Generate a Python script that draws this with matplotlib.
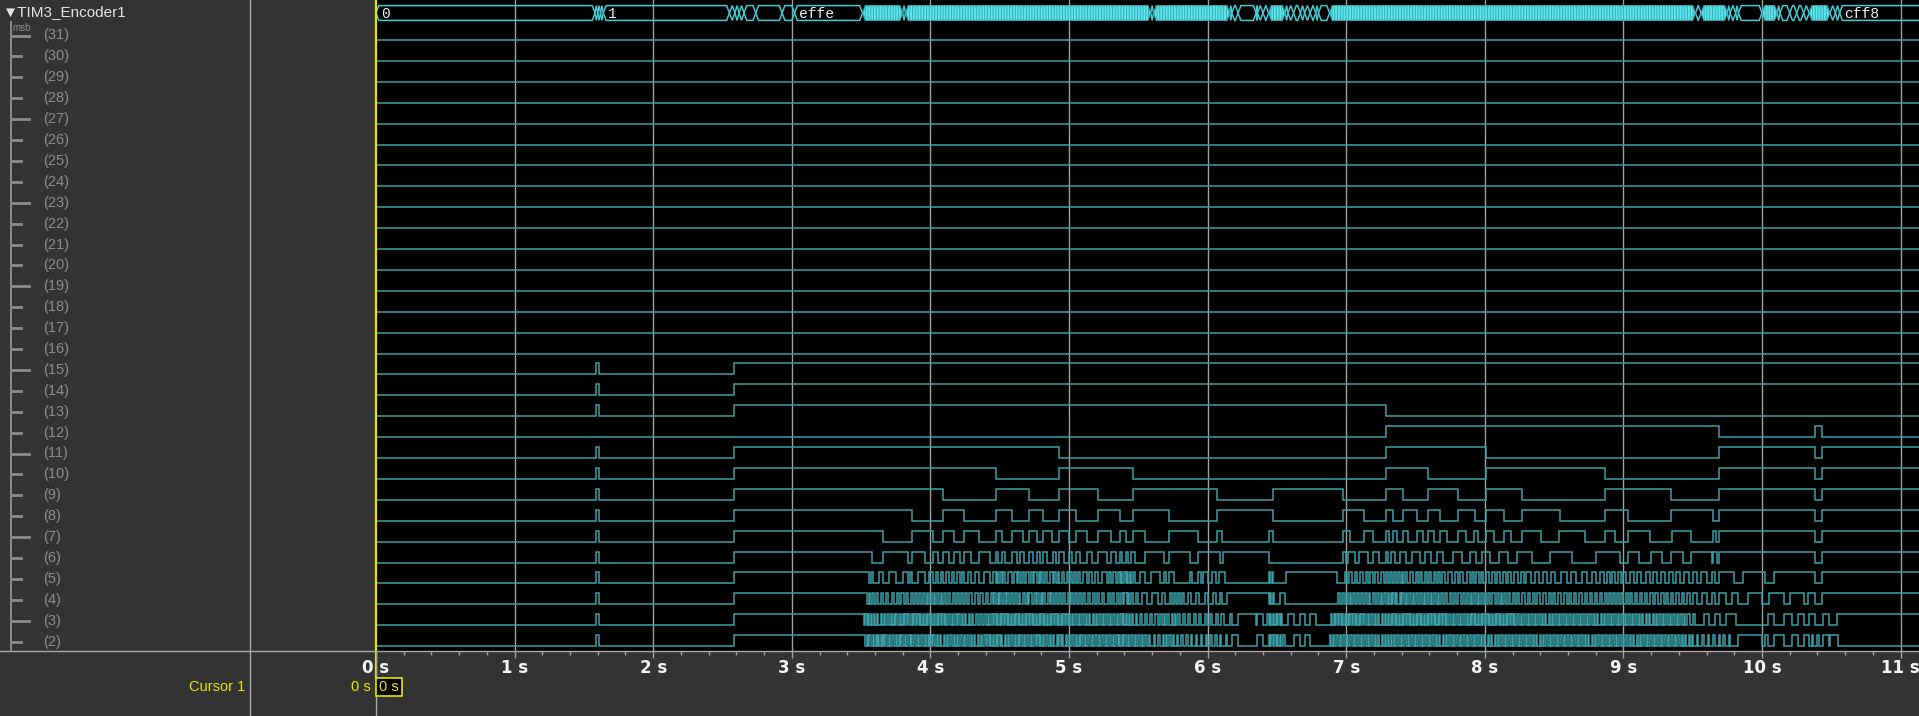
"""
TIM3_Encoder1 logic-analyzer view: 32-bit bus + per-bit waveforms (bits 31..2).
"""
import numpy as np
import matplotlib
matplotlib.use("Agg")
import matplotlib.pyplot as plt
from matplotlib.patches import Polygon, Rectangle

# ═══════════════════════════════════════════════════════════════════════
# data (seconds)
# ═══════════════════════════════════════════════════════════════════════
T_END = 11.2
TIME_TICKS = list(range(12))
TICK_LABELS = [f"{t} s" for t in TIME_TICKS]
BITS = list(range(31, 1, -1))

# bus value changes (sparse part) and spans where the bus toggles too fast to read
BUS_CHANGES = [1.58, 1.60, 1.62, 1.64, 2.55, 2.59, 2.62, 2.655, 2.74, 2.93, 3.02,
               3.51, 3.80, 3.82, 5.59, 5.61, 6.16, 6.175, 6.22, 6.35, 6.36, 6.40,
               6.44, 6.56, 6.58, 6.62, 6.67, 6.70, 6.74, 6.78, 6.80, 6.88, 9.52,
               9.56, 9.75, 9.77, 9.81, 9.83, 10.00, 10.11, 10.13, 10.20, 10.25,
               10.30, 10.34, 10.49, 10.53, 10.56]
BUS_DENSE = [(3.51, 3.80), (3.82, 5.59), (5.61, 6.16), (6.44, 6.56),
             (6.88, 9.52), (9.56, 9.75), (10.00, 10.11), (10.34, 10.49)]
BUS_LABELS = [(0.0, "0"), (1.64, "1"), (3.02, "effe"), (10.56, "cff8")]

# high intervals (rise, fall) per bit
BIT15 = [(1.59, 1.61), (2.586, T_END)]
BIT14 = [(1.59, 1.61), (2.586, T_END)]
BIT13 = [(1.59, 1.61), (2.586, 7.285)]
BIT12 = [(7.285, 9.69), (10.385, 10.435)]
BIT11 = [(1.59, 1.61), (2.586, 4.93), (7.285, 8.006), (9.69, 10.385), (10.435, T_END)]
BIT10 = [(1.59, 1.61), (2.586, 4.47), (4.93, 5.46), (7.285, 7.59), (8.006, 8.87),
         (9.69, 10.385), (10.435, T_END)]
BIT9 = [(1.59, 1.61), (2.586, 4.09), (4.47, 4.71), (4.93, 5.21), (5.46, 6.07),
        (6.474, 6.98), (7.285, 7.41), (7.59, 7.81), (8.006, 8.27), (8.87, 9.346),
        (9.69, 10.385), (10.435, T_END)]
BIT8 = [(1.59, 1.61), (2.586, 3.87), (4.09, 4.245), (4.47, 4.586), (4.71, 4.81),
        (4.93, 5.05), (5.21, 5.37), (5.46, 5.72), (6.07, 6.474), (6.98, 7.13),
        (7.285, 7.34), (7.41, 7.51), (7.59, 7.68), (7.81, 7.93), (8.006, 8.14),
        (8.27, 8.54), (8.87, 9.035), (9.346, 9.65), (9.69, 10.385), (10.435, T_END)]
BIT7 = [(1.59, 1.61), (2.586, 3.66), (3.87, 4.02), (4.09, 4.17), (4.245, 4.35),
        (4.47, 4.52), (4.586, 4.67), (4.71, 4.77), (4.81, 4.88), (4.93, 5.00),
        (5.05, 5.13), (5.21, 5.30), (5.37, 5.41), (5.46, 5.55), (5.72, 5.93),
        (6.07, 6.105), (6.445, 6.474), (6.979, 7.027), (7.131, 7.196), (7.285, 7.311),
        (7.34, 7.369), (7.412, 7.444), (7.509, 7.552), (7.592, 7.633), (7.677, 7.73),
        (7.809, 7.864), (7.922, 7.953), (8.006, 8.066), (8.141, 8.187), (8.271, 8.403),
        (8.538, 8.723), (8.867, 8.939), (9.035, 9.192), (9.348, 9.49), (9.65, 9.67),
        (9.69, 10.385), (10.435, T_END)]
BIT6 = [(1.59, 1.61), (2.586, 3.576), (3.66, 3.836), (3.87, 3.96), (4.02, 4.057),
        (4.09, 4.137), (4.173, 4.214), (4.245, 4.29), (4.354, 4.43), (4.47, 4.49),
        (4.514, 4.538), (4.586, 4.622), (4.646, 4.675), (4.71, 4.738), (4.767, 4.79),
        (4.81, 4.839), (4.882, 4.906), (4.93, 4.964), (5.002, 5.019), (5.05, 5.079),
        (5.127, 5.163), (5.211, 5.271), (5.30, 5.339), (5.368, 5.385), (5.411, 5.428),
        (5.445, 5.476), (5.548, 5.685), (5.724, 5.873), (5.933, 6.09), (6.11, 6.44),
        (6.979, 7.00), (7.015, 7.06), (7.09, 7.16), (7.196, 7.24), (7.285, 7.30),
        (7.325, 7.355), (7.39, 7.428), (7.475, 7.53), (7.57, 7.612), (7.655, 7.70),
        (7.77, 7.835), (7.89, 7.937), (7.98, 8.035), (8.10, 8.165), (8.23, 8.34),
        (8.47, 8.63), (8.80, 8.976), (9.036, 9.115), (9.197, 9.28), (9.346, 9.433),
        (9.488, 9.642), (9.65, 9.674), (9.69, 10.385), (10.435, T_END)]
BIT5 = [(1.59, 1.61), (2.586, 3.56), (3.575, 3.585), (3.63, 3.66), (3.70, 3.75),
        (3.80, 3.836), (3.85, 3.87), (3.91, 3.96), (3.99, 4.02), (4.04, 4.057),
        (4.075, 4.09), (4.11, 4.137), (4.155, 4.173), (4.195, 4.214), (4.23, 4.245),
        (4.27, 4.29), (4.32, 4.354), (4.39, 4.43), (4.45, 4.47), (4.48, 4.49),
        (4.50, 4.514), (4.525, 4.538), (4.56, 4.586), (4.605, 4.622), (4.635, 4.646),
        (4.66, 4.675), (4.69, 4.71), (4.725, 4.738), (4.75, 4.767), (4.78, 4.79),
        (4.80, 4.81), (4.825, 4.839), (4.86, 4.882), (4.895, 4.906), (4.918, 4.93),
        (4.95, 4.964), (4.985, 5.002), (5.01, 5.019), (5.035, 5.05), (5.065, 5.079),
        (5.10, 5.127), (5.145, 5.163), (5.19, 5.211), (5.24, 5.271), (5.285, 5.30),
        (5.32, 5.339), (5.355, 5.368), (5.376, 5.385), (5.40, 5.411), (5.42, 5.428),
        (5.437, 5.445), (5.46, 5.476), (5.51, 5.548), (5.59, 5.66), (5.685, 5.70),
        (5.72, 5.76), (5.87, 5.89), (5.93, 5.95), (5.97, 6.00), (6.03, 6.06),
        (6.08, 6.127), (6.44, 6.45), (6.465, 6.475), (6.563, 6.937), (6.99, 7.005),
        (7.02, 7.04), (7.06, 7.075), (7.10, 7.12), (7.14, 7.16), (7.175, 7.19),
        (7.21, 7.23), (7.25, 7.27), (7.29, 7.30), (7.315, 7.33), (7.345, 7.36),
        (7.375, 7.39), (7.40, 7.41), (7.425, 7.44), (7.46, 7.48), (7.50, 7.515),
        (7.535, 7.55), (7.565, 7.58), (7.60, 7.615), (7.63, 7.645), (7.66, 7.675),
        (7.69, 7.71), (7.735, 7.76), (7.785, 7.805), (7.82, 7.84), (7.87, 7.89),
        (7.91, 7.925), (7.94, 7.955), (7.97, 7.99), (8.01, 8.03), (8.05, 8.07),
        (8.09, 8.11), (8.13, 8.15), (8.17, 8.19), (8.21, 8.24), (8.26, 8.28),
        (8.30, 8.33), (8.36, 8.39), (8.42, 8.45), (8.48, 8.51), (8.55, 8.59),
        (8.62, 8.66), (8.70, 8.74), (8.77, 8.80), (8.83, 8.86), (8.88, 8.90),
        (8.92, 8.94), (8.96, 8.98), (9.00, 9.02), (9.05, 9.08), (9.10, 9.13),
        (9.16, 9.19), (9.21, 9.24), (9.27, 9.30), (9.33, 9.36), (9.38, 9.41),
        (9.44, 9.47), (9.50, 9.53), (9.56, 9.60), (9.64, 9.66), (9.69, 9.80),
        (9.86, 10.02), (10.09, 10.385), (10.435, T_END)]
BIT4 = [(1.59, 1.61), (2.586, 3.54), (3.555, 3.565), (3.58, 3.59), (3.61, 3.625),
        (3.645, 3.66), (3.68, 3.695), (3.72, 3.74), (3.76, 3.775), (3.79, 3.81),
        (3.825, 3.84), (3.86, 3.875), (3.89, 3.90), (3.915, 3.93), (3.945, 3.96),
        (3.975, 3.985), (4.00, 4.01), (4.025, 4.035), (4.05, 4.06), (4.075, 4.085),
        (4.10, 4.115), (4.13, 4.145), (4.16, 4.175), (4.19, 4.205), (4.22, 4.235),
        (4.25, 4.265), (4.28, 4.30), (4.32, 4.34), (4.36, 4.38), (4.40, 4.415),
        (4.435, 4.45), (4.46, 4.475), (4.485, 4.495), (4.505, 4.52), (4.53, 4.545),
        (4.555, 4.57), (4.58, 4.595), (4.61, 4.625), (4.64, 4.65), (4.665, 4.68),
        (4.695, 4.705), (4.715, 4.73), (4.745, 4.76), (4.77, 4.785), (4.795, 4.805),
        (4.815, 4.83), (4.845, 4.86), (4.87, 4.885), (4.90, 4.91), (4.925, 4.94),
        (4.955, 4.97), (4.99, 5.005), (5.015, 5.03), (5.04, 5.055), (5.07, 5.085),
        (5.10, 5.115), (5.135, 5.15), (5.17, 5.185), (5.20, 5.22), (5.235, 5.255),
        (5.28, 5.295), (5.31, 5.325), (5.345, 5.36), (5.375, 5.39), (5.40, 5.415),
        (5.425, 5.435), (5.45, 5.465), (5.48, 5.50), (5.53, 5.56), (5.60, 5.64),
        (5.67, 5.69), (5.73, 5.745), (5.76, 5.775), (5.79, 5.80), (5.815, 5.83),
        (5.86, 5.88), (5.915, 5.94), (5.98, 6.00), (6.04, 6.06), (6.09, 6.105),
        (6.14, 6.44), (6.45, 6.46), (6.47, 6.48), (6.52, 6.56), (6.94, 6.955),
        (6.97, 6.985), (7.00, 7.01), (7.025, 7.035), (7.05, 7.065), (7.08, 7.09),
        (7.105, 7.12), (7.135, 7.15), (7.165, 7.175), (7.19, 7.205), (7.22, 7.235),
        (7.25, 7.26), (7.275, 7.29), (7.30, 7.31), (7.32, 7.33), (7.34, 7.35),
        (7.36, 7.37), (7.385, 7.395), (7.405, 7.415), (7.43, 7.44), (7.45, 7.465),
        (7.48, 7.49), (7.505, 7.52), (7.535, 7.545), (7.56, 7.57), (7.585, 7.595),
        (7.61, 7.62), (7.635, 7.645), (7.66, 7.67), (7.685, 7.70), (7.715, 7.73),
        (7.75, 7.765), (7.78, 7.795), (7.81, 7.825), (7.845, 7.86), (7.875, 7.885),
        (7.90, 7.91), (7.925, 7.935), (7.95, 7.96), (7.975, 7.985), (8.00, 8.01),
        (8.025, 8.04), (8.055, 8.07), (8.085, 8.10), (8.115, 8.125), (8.14, 8.155),
        (8.17, 8.185), (8.20, 8.215), (8.235, 8.25), (8.27, 8.29), (8.31, 8.325),
        (8.345, 8.36), (8.38, 8.40), (8.42, 8.44), (8.46, 8.475), (8.495, 8.51),
        (8.53, 8.55), (8.57, 8.59), (8.61, 8.625), (8.645, 8.66), (8.68, 8.70),
        (8.72, 8.74), (8.76, 8.775), (8.795, 8.81), (8.83, 8.845), (8.865, 8.88),
        (8.895, 8.91), (8.925, 8.94), (8.955, 8.97), (8.985, 9.00), (9.02, 9.035),
        (9.05, 9.065), (9.085, 9.10), (9.12, 9.135), (9.155, 9.17), (9.19, 9.21),
        (9.23, 9.25), (9.27, 9.29), (9.31, 9.325), (9.345, 9.36), (9.38, 9.40),
        (9.42, 9.44), (9.46, 9.48), (9.50, 9.53), (9.57, 9.60), (9.64, 9.66),
        (9.69, 9.74), (9.78, 9.83), (9.90, 10.00), (10.05, 10.16), (10.20, 10.30),
        (10.33, 10.385), (10.435, T_END)]
BIT3 = [(1.59, 1.61), (2.586, 3.52), (3.53, 3.54), (3.55, 3.56), (3.57, 3.58),
        (3.59, 3.60), (3.615, 3.625), (3.64, 3.65), (3.665, 3.675), (3.69, 3.70),
        (3.715, 3.725), (3.735, 3.745), (3.755, 3.765), (3.78, 3.79), (3.80, 3.81),
        (3.82, 3.83), (3.84, 3.85), (3.865, 3.875), (3.885, 3.895), (3.905, 3.915),
        (3.925, 3.935), (3.945, 3.955), (3.965, 3.975), (3.985, 3.995), (4.005, 4.015),
        (4.025, 4.035), (4.045, 4.055), (4.065, 4.075), (4.085, 4.095), (4.105, 4.115),
        (4.13, 4.14), (4.155, 4.165), (4.18, 4.19), (4.20, 4.21), (4.225, 4.235),
        (4.25, 4.26), (4.275, 4.285), (4.30, 4.31), (4.33, 4.34), (4.36, 4.37),
        (4.39, 4.40), (4.415, 4.425), (4.44, 4.45), (4.46, 4.47), (4.48, 4.49),
        (4.50, 4.51), (4.52, 4.53), (4.54, 4.55), (4.56, 4.57), (4.58, 4.59),
        (4.60, 4.61), (4.62, 4.63), (4.64, 4.65), (4.66, 4.67), (4.68, 4.69),
        (4.70, 4.71), (4.72, 4.73), (4.74, 4.75), (4.76, 4.77), (4.78, 4.79),
        (4.80, 4.81), (4.82, 4.83), (4.84, 4.85), (4.86, 4.87), (4.88, 4.89),
        (4.90, 4.91), (4.92, 4.93), (4.94, 4.95), (4.96, 4.97), (4.98, 4.99),
        (5.00, 5.01), (5.02, 5.03), (5.045, 5.055), (5.07, 5.08), (5.095, 5.105),
        (5.12, 5.13), (5.145, 5.155), (5.17, 5.18), (5.195, 5.205), (5.22, 5.23),
        (5.245, 5.255), (5.27, 5.28), (5.295, 5.305), (5.32, 5.33), (5.345, 5.355),
        (5.37, 5.38), (5.39, 5.40), (5.41, 5.42), (5.43, 5.44), (5.455, 5.465),
        (5.48, 5.49), (5.51, 5.525), (5.545, 5.56), (5.585, 5.60), (5.62, 5.64),
        (5.66, 5.67), (5.685, 5.695), (5.71, 5.72), (5.74, 5.75), (5.765, 5.775),
        (5.79, 5.80), (5.82, 5.835), (5.86, 5.875), (5.90, 5.915), (5.94, 5.955),
        (5.98, 5.995), (6.02, 6.035), (6.06, 6.075), (6.10, 6.12), (6.16, 6.175),
        (6.22, 6.35), (6.36, 6.40), (6.43, 6.44), (6.45, 6.46), (6.47, 6.48),
        (6.49, 6.50), (6.51, 6.52), (6.53, 6.54), (6.58, 6.62), (6.67, 6.70),
        (6.74, 6.78), (6.89, 6.90), (6.91, 6.92), (6.93, 6.94), (6.95, 6.96),
        (6.97, 6.98), (6.99, 7.00), (7.01, 7.02), (7.03, 7.04), (7.05, 7.06),
        (7.07, 7.08), (7.09, 7.10), (7.11, 7.12), (7.13, 7.14), (7.155, 7.165),
        (7.18, 7.19), (7.205, 7.215), (7.23, 7.24), (7.255, 7.265), (7.28, 7.29),
        (7.30, 7.31), (7.32, 7.33), (7.34, 7.35), (7.36, 7.37), (7.38, 7.39),
        (7.40, 7.41), (7.42, 7.43), (7.44, 7.45), (7.46, 7.47), (7.48, 7.49),
        (7.50, 7.51), (7.52, 7.53), (7.54, 7.55), (7.56, 7.57), (7.58, 7.59),
        (7.60, 7.61), (7.62, 7.63), (7.64, 7.65), (7.66, 7.67), (7.68, 7.69),
        (7.70, 7.71), (7.72, 7.73), (7.745, 7.755), (7.77, 7.78), (7.795, 7.805),
        (7.82, 7.83), (7.845, 7.855), (7.87, 7.88), (7.89, 7.90), (7.91, 7.92),
        (7.93, 7.94), (7.95, 7.96), (7.97, 7.98), (7.99, 8.00), (8.01, 8.02),
        (8.03, 8.04), (8.05, 8.06), (8.07, 8.08), (8.09, 8.10), (8.11, 8.12),
        (8.13, 8.14), (8.15, 8.16), (8.17, 8.18), (8.19, 8.20), (8.21, 8.22),
        (8.235, 8.245), (8.26, 8.27), (8.285, 8.295), (8.31, 8.32), (8.335, 8.345),
        (8.36, 8.37), (8.385, 8.395), (8.41, 8.42), (8.435, 8.445), (8.46, 8.47),
        (8.485, 8.495), (8.51, 8.52), (8.535, 8.545), (8.56, 8.57), (8.585, 8.595),
        (8.61, 8.62), (8.635, 8.645), (8.66, 8.67), (8.685, 8.695), (8.71, 8.72),
        (8.735, 8.745), (8.76, 8.77), (8.785, 8.795), (8.81, 8.82), (8.835, 8.845),
        (8.86, 8.87), (8.885, 8.895), (8.91, 8.92), (8.935, 8.945), (8.96, 8.97),
        (8.985, 8.995), (9.01, 9.02), (9.035, 9.045), (9.06, 9.07), (9.085, 9.095),
        (9.11, 9.12), (9.135, 9.145), (9.16, 9.17), (9.185, 9.195), (9.21, 9.22),
        (9.235, 9.245), (9.26, 9.27), (9.285, 9.295), (9.31, 9.32), (9.335, 9.345),
        (9.36, 9.37), (9.385, 9.395), (9.41, 9.42), (9.435, 9.445), (9.46, 9.48),
        (9.50, 9.52), (9.58, 9.62), (9.66, 9.70), (9.74, 9.81), (10.04, 10.09),
        (10.16, 10.22), (10.26, 10.30), (10.34, 10.38), (10.44, 10.48), (10.54, T_END)]
BIT2 = [(1.59, 1.61), (2.586, 3.53), (3.54, 3.55), (3.56, 3.57), (3.585, 3.595),
        (3.605, 3.612), (3.62, 3.63), (3.64, 3.648), (3.655, 3.665), (3.675, 3.685),
        (3.70, 3.71), (3.725, 3.735), (3.75, 3.76), (3.77, 3.78), (3.79, 3.80),
        (3.815, 3.825), (3.84, 3.85), (3.86, 3.87), (3.885, 3.895), (3.91, 3.92),
        (3.935, 3.945), (3.96, 3.97), (3.98, 3.99), (4.00, 4.01), (4.02, 4.03),
        (4.045, 4.055), (4.07, 4.08), (4.095, 4.105), (4.12, 4.13), (4.145, 4.155),
        (4.17, 4.18), (4.19, 4.20), (4.215, 4.225), (4.24, 4.25), (4.265, 4.275),
        (4.29, 4.30), (4.315, 4.325), (4.34, 4.35), (4.365, 4.375), (4.39, 4.40),
        (4.41, 4.42), (4.43, 4.44), (4.45, 4.46), (4.47, 4.48), (4.49, 4.50),
        (4.51, 4.52), (4.535, 4.545), (4.56, 4.57), (4.585, 4.595), (4.61, 4.62),
        (4.63, 4.64), (4.65, 4.66), (4.675, 4.685), (4.70, 4.71), (4.725, 4.735),
        (4.75, 4.76), (4.77, 4.78), (4.79, 4.80), (4.81, 4.82), (4.835, 4.845),
        (4.86, 4.87), (4.885, 4.895), (4.91, 4.92), (4.93, 4.94), (4.95, 4.96),
        (4.975, 4.985), (5.00, 5.01), (5.025, 5.035), (5.05, 5.06), (5.07, 5.08),
        (5.09, 5.10), (5.115, 5.125), (5.14, 5.15), (5.165, 5.175), (5.19, 5.20),
        (5.215, 5.225), (5.24, 5.25), (5.265, 5.275), (5.29, 5.30), (5.315, 5.325),
        (5.34, 5.35), (5.36, 5.37), (5.38, 5.39), (5.40, 5.41), (5.425, 5.435),
        (5.45, 5.46), (5.475, 5.485), (5.50, 5.51), (5.525, 5.535), (5.55, 5.56),
        (5.575, 5.585), (5.61, 5.62), (5.645, 5.655), (5.675, 5.685), (5.70, 5.71),
        (5.725, 5.735), (5.75, 5.76), (5.78, 5.79), (5.81, 5.82), (5.845, 5.855),
        (5.88, 5.89), (5.915, 5.925), (5.95, 5.96), (5.985, 5.995), (6.02, 6.03),
        (6.055, 6.065), (6.09, 6.10), (6.13, 6.14), (6.175, 6.22), (6.36, 6.40),
        (6.44, 6.45), (6.46, 6.47), (6.48, 6.49), (6.50, 6.51), (6.52, 6.53),
        (6.545, 6.555), (6.62, 6.67), (6.70, 6.74), (6.88, 6.89), (6.905, 6.915),
        (6.93, 6.94), (6.955, 6.965), (6.98, 6.99), (7.005, 7.015), (7.03, 7.04),
        (7.055, 7.065), (7.08, 7.09), (7.105, 7.115), (7.13, 7.14), (7.155, 7.165),
        (7.18, 7.19), (7.205, 7.215), (7.23, 7.24), (7.255, 7.265), (7.28, 7.29),
        (7.30, 7.31), (7.32, 7.33), (7.345, 7.355), (7.37, 7.38), (7.395, 7.405),
        (7.42, 7.43), (7.445, 7.455), (7.47, 7.48), (7.495, 7.505), (7.52, 7.53),
        (7.545, 7.555), (7.57, 7.58), (7.595, 7.605), (7.62, 7.63), (7.645, 7.655),
        (7.67, 7.68), (7.695, 7.705), (7.72, 7.73), (7.745, 7.755), (7.77, 7.78),
        (7.795, 7.805), (7.82, 7.83), (7.845, 7.855), (7.87, 7.88), (7.895, 7.905),
        (7.92, 7.93), (7.945, 7.955), (7.97, 7.98), (7.995, 8.005), (8.02, 8.03),
        (8.045, 8.055), (8.07, 8.08), (8.095, 8.105), (8.12, 8.13), (8.145, 8.155),
        (8.17, 8.18), (8.195, 8.205), (8.22, 8.23), (8.245, 8.255), (8.27, 8.28),
        (8.295, 8.305), (8.32, 8.33), (8.345, 8.355), (8.37, 8.38), (8.395, 8.405),
        (8.42, 8.43), (8.445, 8.455), (8.47, 8.48), (8.495, 8.505), (8.52, 8.53),
        (8.545, 8.555), (8.57, 8.58), (8.595, 8.605), (8.62, 8.63), (8.645, 8.655),
        (8.67, 8.68), (8.695, 8.705), (8.72, 8.73), (8.745, 8.755), (8.77, 8.78),
        (8.795, 8.805), (8.82, 8.83), (8.845, 8.855), (8.87, 8.88), (8.895, 8.905),
        (8.92, 8.93), (8.945, 8.955), (8.97, 8.98), (8.995, 9.005), (9.02, 9.03),
        (9.045, 9.055), (9.07, 9.08), (9.095, 9.105), (9.12, 9.13), (9.145, 9.155),
        (9.17, 9.18), (9.195, 9.205), (9.22, 9.23), (9.245, 9.255), (9.27, 9.28),
        (9.295, 9.305), (9.32, 9.33), (9.345, 9.355), (9.37, 9.38), (9.395, 9.405),
        (9.42, 9.43), (9.445, 9.455), (9.47, 9.48), (9.495, 9.505), (9.53, 9.54),
        (9.57, 9.58), (9.61, 9.62), (9.65, 9.66), (9.69, 9.70), (9.72, 9.73),
        (9.76, 9.77), (9.83, 10.00), (10.02, 10.04), (10.09, 10.16), (10.22, 10.26),
        (10.30, 10.34), (10.36, 10.37), (10.40, 10.41), (10.44, 10.48), (10.49, 10.55)]

BIT_HIGH = {15: BIT15, 14: BIT14, 13: BIT13, 12: BIT12, 11: BIT11, 10: BIT10,
            9: BIT9, 8: BIT8, 7: BIT7, 6: BIT6, 5: BIT5, 4: BIT4, 3: BIT3, 2: BIT2}

# ═══════════════════════════════════════════════════════════════════════
# layout / style (pixels at dpi 100)
# ═══════════════════════════════════════════════════════════════════════
W, H = 1919, 716
X0 = 376          # left edge of the wave area
AX_Y = 651        # time axis line
SEP_X = 250       # name / value column separator
PX_PER_S = 138.6
ROW_LOW0 = 40.0   # low level of bit 31
LABEL0 = 35.5     # label centre of bit 31
PITCH = 20.9
AMP = 11.0
BUS_YC, BUS_HALF, SLANT = 13.0, 7.4, 0.02

PANEL = "#333333"
WAVE = "#3a9fa7"
BUS_EDGE = "#44c9d2"
BUS_FILL = "#5fe2ea"
GRID = "#a0a0a0"
TXT_GRAY = "#8c8c8c"
YELLOW = "#e6e600"


def bus_shape(a, b, **kw):
    yt, yb = BUS_YC - BUS_HALF, BUS_YC + BUS_HALF
    if b - a > 2 * SLANT:
        pts = [(a, BUS_YC), (a + SLANT, yt), (b - SLANT, yt),
               (b, BUS_YC), (b - SLANT, yb), (a + SLANT, yb)]
    else:
        m = (a + b) / 2
        pts = [(a, BUS_YC), (m, yt), (b, BUS_YC), (m, yb)]
    return Polygon(pts, closed=True, **kw)


def draw_bus(ax):
    edges = [0.0] + BUS_CHANGES + [T_END]
    for a, b in zip(edges[:-1], edges[1:]):
        if any(d0 <= a and b <= d1 for d0, d1 in BUS_DENSE):
            continue
        ax.add_patch(bus_shape(a, b, facecolor="none", edgecolor=BUS_EDGE, lw=1.1))
    for d0, d1 in BUS_DENSE:
        ax.add_patch(bus_shape(d0, d1, facecolor=BUS_FILL, edgecolor="#2fa9b1",
                               hatch="||||||", lw=0.8))
    for t, txt in BUS_LABELS:
        ax.text(t + 0.035, BUS_YC + 0.5, txt, color="#f0f0f0", fontsize=10.5,
                family=["Liberation Mono", "DejaVu Sans Mono"], ha="left", va="center")


def draw_bits(ax):
    for i, bit in enumerate(BITS):
        low = ROW_LOW0 + i * PITCH
        xs, ys = [0.0], [low]
        for r, f in BIT_HIGH.get(bit, []):
            xs += [r, r, f, f]
            ys += [low, low - AMP, low - AMP, low]
        xs.append(T_END)
        ys.append(ys[-1])
        ax.plot(xs, ys, color=WAVE, lw=1.1, solid_joinstyle="miter", zorder=3)


def draw_panel(ov):
    ov.text(3, 12, "▼TIM3_Encoder1", color="#e4e4e4", fontsize=11,
            family=["Liberation Sans", "DejaVu Sans"], ha="left", va="center")
    ov.plot([10.5, 10.5], [22, AX_Y], color=TXT_GRAY, lw=1.4)
    ov.text(12, 28, "msb", color=TXT_GRAY, fontsize=7, ha="left", va="center",
            family=["Liberation Sans", "DejaVu Sans"])
    for i, bit in enumerate(BITS):
        y = LABEL0 + i * PITCH
        dash = 18 if (31 - bit) % 4 == 0 else 10
        ov.plot([10.5, 10.5 + dash], [y, y], color=TXT_GRAY, lw=2.0)
        ov.text(43, y, f"({bit})", color=TXT_GRAY, fontsize=10.5,
                family=["Liberation Sans", "DejaVu Sans"], ha="left", va="center")

    # frame lines
    ov.axhline(AX_Y, color="#a8a8a8", lw=1.0)
    ov.axvline(SEP_X, color="#a8a8a8", lw=1.0)
    ov.plot([X0, X0], [AX_Y, H], color="#a8a8a8", lw=1.0)

    # cursor readout
    ov.text(245, 687, "Cursor 1", color=YELLOW, fontsize=10.5,
            family=["Liberation Sans", "DejaVu Sans"], ha="right", va="center")
    ov.text(371, 687, "0 s", color=YELLOW, fontsize=10.5,
            family=["Liberation Sans", "DejaVu Sans"], ha="right", va="center")
    ov.add_patch(Rectangle((X0, 677.5), 26, 18, facecolor="black",
                           edgecolor=YELLOW, lw=1.2, zorder=6))
    ov.text(X0 + 13, 687, "0 s", color=YELLOW, fontsize=10.5, zorder=7,
            family=["Liberation Sans", "DejaVu Sans"], ha="center", va="center")


def main():
    plt.rcParams["hatch.linewidth"] = 0.6
    fig = plt.figure(figsize=(W / 100, H / 100), dpi=100, facecolor=PANEL)

    ax = fig.add_axes([X0 / W, (H - AX_Y) / H, (W - X0) / W, AX_Y / H])
    ax.set_facecolor("black")
    ax.set_xlim(0, (W - X0) / PX_PER_S)
    ax.set_ylim(AX_Y, 0)
    for s in ax.spines.values():
        s.set_visible(False)
    ax.set_yticks([])
    ax.set_xticks(TIME_TICKS)
    ax.set_xticklabels(TICK_LABELS)
    ax.set_xticks(np.arange(0, 11.2, 0.2), minor=True)
    ax.tick_params(axis="x", which="major", length=5, width=1, color=GRID,
                   labelcolor="#f4f4f4", labelsize=12, pad=1)
    ax.tick_params(axis="x", which="minor", length=3, width=1, color=GRID)
    for lab in ax.get_xticklabels():
        lab.set_family(["Liberation Sans Narrow", "DejaVu Sans"])
        lab.set_fontweight("bold")

    for t in TIME_TICKS[1:]:
        ax.axvline(t, color=GRID, lw=1.0, zorder=1)

    draw_bus(ax)
    draw_bits(ax)
    ax.axvline(0, ymin=-(677 - AX_Y) / AX_Y, ymax=1, color=YELLOW, lw=1.6,
               clip_on=False, zorder=8)

    ov = fig.add_axes([0, 0, 1, 1], zorder=5)
    ov.set_xlim(0, W)
    ov.set_ylim(H, 0)
    ov.axis("off")
    ov.patch.set_alpha(0)
    draw_panel(ov)

    fig.savefig("out.png", dpi=100, facecolor=PANEL)
    plt.close(fig)


if __name__ == "__main__":
    main()
